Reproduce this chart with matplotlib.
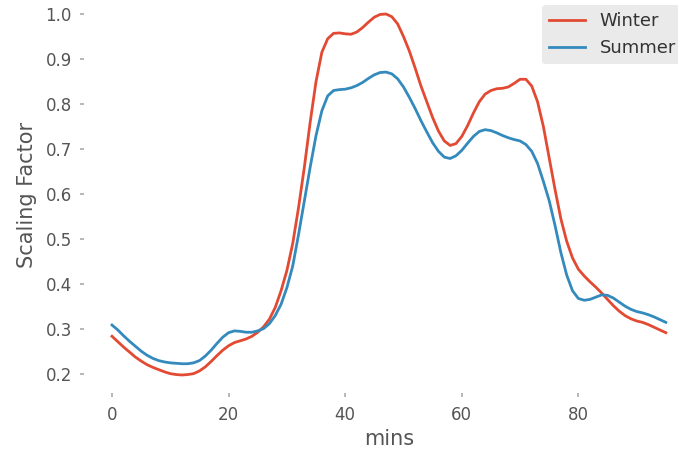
import matplotlib
matplotlib.use("Agg")
import matplotlib.pyplot as plt
import numpy as np

plt.style.use("ggplot")

# Daily load profile scaling factors, one value per interval (0..95)
mins = list(range(96))

winter = [
    0.284, 0.272, 0.260, 0.249, 0.238, 0.229, 0.221, 0.215, 0.210, 0.205,
    0.201, 0.199, 0.198, 0.199, 0.201, 0.207, 0.216, 0.228, 0.241, 0.253,
    0.263, 0.270, 0.274, 0.278, 0.284, 0.293, 0.305, 0.322, 0.348, 0.385,
    0.430, 0.490, 0.570, 0.660, 0.760, 0.850, 0.915, 0.945, 0.957, 0.958,
    0.956, 0.955, 0.960, 0.970, 0.982, 0.993, 0.999, 1.000, 0.994, 0.978,
    0.950, 0.918, 0.880, 0.840, 0.805, 0.770, 0.740, 0.718, 0.708, 0.712,
    0.728, 0.752, 0.780, 0.805, 0.822, 0.830, 0.834, 0.835, 0.838, 0.846,
    0.855, 0.855, 0.840, 0.805, 0.750, 0.680, 0.610, 0.545, 0.495, 0.458,
    0.433, 0.418, 0.405, 0.393, 0.380, 0.366, 0.352, 0.340, 0.330, 0.323,
    0.318, 0.315, 0.310, 0.304, 0.298, 0.292,
]

summer = [
    0.309, 0.298, 0.285, 0.273, 0.262, 0.251, 0.242, 0.235, 0.230, 0.227,
    0.225, 0.224, 0.223, 0.223, 0.225, 0.230, 0.240, 0.253, 0.268, 0.282,
    0.292, 0.296, 0.295, 0.293, 0.293, 0.296, 0.301, 0.312, 0.330, 0.355,
    0.392, 0.440, 0.510, 0.585, 0.660, 0.730, 0.785, 0.818, 0.830, 0.832,
    0.833, 0.836, 0.841, 0.848, 0.857, 0.865, 0.870, 0.871, 0.867, 0.856,
    0.838, 0.815, 0.790, 0.763, 0.738, 0.714, 0.695, 0.682, 0.679, 0.685,
    0.697, 0.713, 0.728, 0.739, 0.743, 0.741, 0.736, 0.730, 0.725, 0.721,
    0.718, 0.710, 0.695, 0.668, 0.628, 0.585, 0.530, 0.470, 0.420, 0.385,
    0.368, 0.364, 0.366, 0.371, 0.376, 0.375, 0.369, 0.360, 0.351, 0.344,
    0.339, 0.336, 0.332, 0.327, 0.321, 0.315,
]

series_labels = ["Winter", "Summer"]
x_ticks = [0, 20, 40, 60, 80]
y_ticks = [0.2, 0.3, 0.4, 0.5, 0.6, 0.7, 0.8, 0.9, 1.0]

W, H = 678, 454
fig = plt.figure(figsize=(W / 100, H / 100), dpi=100)
fig.patch.set_facecolor("white")
ax = fig.add_axes([84.3 / W, (H - 393) / H, 609.2 / W, 397 / H])
ax.set_facecolor("white")
ax.grid(False)
for s in ax.spines.values():
    s.set_visible(False)

ax.plot(mins, winter, color="#E24A33", lw=2.0, label=series_labels[0])
ax.plot(mins, summer, color="#348ABD", lw=2.0, label=series_labels[1])

ax.set_xlim(-4.75, 99.75)
ax.set_ylim(0.158, 1.04)
ax.set_xticks(x_ticks)
ax.set_xticklabels([str(t) for t in x_ticks])
ax.set_yticks(y_ticks)
ax.set_yticklabels([f"{t:.1f}" for t in y_ticks])
ax.tick_params(axis="both", labelsize=12, colors="#aaaaaa", labelcolor="#555555",
               length=3, width=1.2, direction="out")
ax.tick_params(axis="x", pad=6)
ax.tick_params(axis="y", pad=6)

ax.set_xlabel("mins", fontsize=15, color="#555555", labelpad=4)
ax.set_ylabel("Scaling Factor", fontsize=15, color="#555555", labelpad=6)

leg = ax.legend(loc="upper left", bbox_to_anchor=(542 / W, 1 - 5 / H),
                bbox_transform=fig.transFigure, borderaxespad=0,
                fontsize=13, facecolor="#E5E5E5", framealpha=0.8,
                edgecolor="none", fancybox=True)
for t in leg.get_texts():
    t.set_color("#333333")

fig.savefig("out.png", dpi=100, facecolor="white")
